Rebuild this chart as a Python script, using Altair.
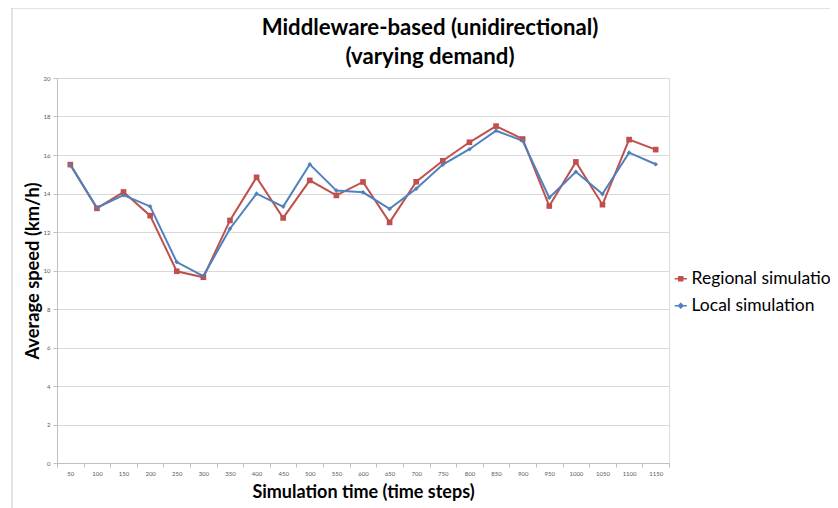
import altair as alt
import pandas as pd

times = [50, 100, 150, 200, 250, 300, 350, 400, 450, 500, 550, 600,
         650, 700, 750, 800, 850, 900, 950, 1000, 1050, 1100, 1150]
regional = [15.5, 13.23, 14.08, 12.85, 9.96, 9.65, 12.6, 14.84, 12.73, 14.68, 13.9, 14.6,
            12.5, 14.61, 15.7, 16.66, 17.5, 16.83, 13.35, 15.64, 13.42, 16.8, 16.28]
local = [15.5, 13.26, 13.92, 13.33, 10.44, 9.71, 12.17, 13.99, 13.32, 15.52, 14.15, 14.06,
         13.2, 14.25, 15.5, 16.3, 17.26, 16.74, 13.78, 15.13, 13.97, 16.12, 15.52]
series_names = ["Regional simulation", "Local simulation"]
series_colors = ["#C0504D", "#4F81BD"]

rows = []
for t, r, l in zip(times, regional, local):
    rows.append({"time": str(t), "series": series_names[0], "value": r})
    rows.append({"time": str(t), "series": series_names[1], "value": l})
df = pd.DataFrame(rows)
time_order = [str(t) for t in times]

FONT = "Lato"
GRAY = "#bfbfbf"

x_enc = alt.X("time:O", sort=time_order,
              scale=alt.Scale(type="band", paddingInner=0, paddingOuter=0),
              axis=alt.Axis(title="Simulation time (time steps)", labelAngle=0,
                            tickBand="extent", labelFontSize=6, labelColor="#595959",
                            labelFont=FONT, labelPadding=3, tickSize=4,
                            tickColor=GRAY, domainColor=GRAY,
                            titleFont=FONT, titleFontSize=18, titleFontWeight="bold",
                            titleColor="black", titlePadding=7))
y_enc = alt.Y("value:Q", scale=alt.Scale(domain=[0, 20]),
              axis=alt.Axis(title="Average speed (km/h)", values=list(range(0, 21, 2)),
                            labelFontSize=6, labelColor="#595959", labelFont=FONT,
                            tickSize=4, tickColor=GRAY, domainColor=GRAY,
                            gridColor="#d9d9d9", labelPadding=3,
                            titleFont=FONT, titleFontSize=18.3, titleFontWeight="bold",
                            titleColor="black", titlePadding=1))

base = alt.Chart(df)

reg_line = base.transform_filter(alt.datum.series == series_names[0]).mark_line(
    color=series_colors[0], strokeWidth=2).encode(x=x_enc, y=y_enc)
loc_line = base.transform_filter(alt.datum.series == series_names[1]).mark_line(
    color=series_colors[1], strokeWidth=2).encode(x=x_enc, y=y_enc)
reg_pts = base.transform_filter(alt.datum.series == series_names[0]).mark_point(
    color=series_colors[0], filled=True, shape="square", size=32, opacity=1).encode(x=x_enc, y=y_enc)
loc_pts = base.transform_filter(alt.datum.series == series_names[1]).mark_point(
    color=series_colors[1], filled=True, shape="diamond", size=22, opacity=1).encode(x=x_enc, y=y_enc)

sq_path = "M-1,0H1M-0.32,-0.32H0.32V0.32H-0.32Z"
dm_path = "M-1,0H1M0,-0.36L0.36,0L0,0.36L-0.36,0Z"

leg = alt.Legend(title=None, orient="none", legendX=615, legendY=192,
                 labelFont=FONT, labelFontSize=17.5, labelColor="black",
                 symbolSize=150, symbolStrokeWidth=1.5, rowPadding=8,
                 labelOffset=2, labelLimit=300)
legend_layer = base.transform_filter("false").mark_point(
    filled=True, strokeWidth=1.5, opacity=1).encode(
    x=x_enc, y=y_enc,
    color=alt.Color("series:N", scale=alt.Scale(domain=series_names, range=series_colors), legend=leg),
    stroke=alt.Stroke("series:N", scale=alt.Scale(domain=series_names, range=series_colors), legend=leg),
    shape=alt.Shape("series:N", scale=alt.Scale(domain=series_names, range=[sq_path, dm_path]), legend=leg),
)

frame_df = pd.DataFrame({"k": [0]})
frame_left = alt.Chart(frame_df).mark_rule(color="#c8c8c8", strokeWidth=1).encode(
    x=alt.value(-45), y=alt.value(-70), y2=alt.value(440))
frame_top = alt.Chart(frame_df).mark_rule(color="#c8c8c8", strokeWidth=1).encode(
    x=alt.value(-45), x2=alt.value(800), y=alt.value(-70))

chart = alt.layer(frame_left, frame_top, reg_line, loc_line, reg_pts, loc_pts, legend_layer).properties(
    width=612, height=385,
    title=alt.TitleParams(["Middleware-based (unidirectional)", "(varying demand)"],
                          font=FONT, fontSize=22.2, fontWeight="bold", color="black",
                          anchor="middle", frame="group", dx=67, offset=-61, lineHeight=29),
    autosize=alt.AutoSizeParams(type="none"),
    padding={"left": 49, "top": 70, "right": 161, "bottom": 45},
).configure_view(stroke=None).configure(background="white")

chart.save("out.html", embed_options={"renderer": "svg", "actions": False})
